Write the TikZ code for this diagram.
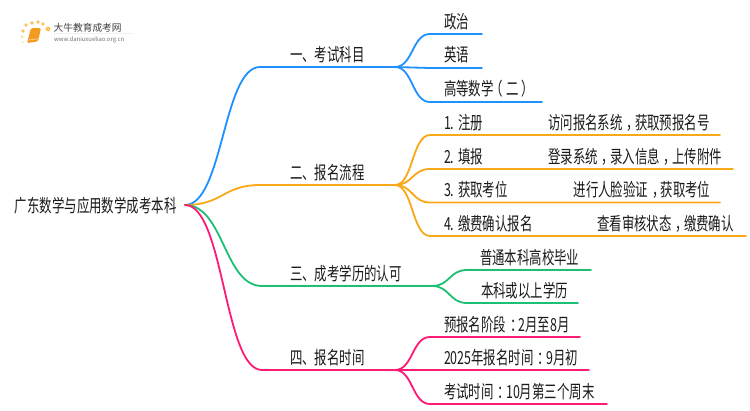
\documentclass[tikz,border=0pt]{standalone}
\usepackage{fontspec}
\setmainfont{Noto Sans CJK SC}
\newcommand{\fwc}{\makebox[1em][l]{\hspace{.32em}，}}
\newcommand{\fwk}{\makebox[1em][l]{\hspace{.32em}：}}
\newcommand{\fwl}{\makebox[1em][l]{\hspace{-.25em}（}}
\newcommand{\fwr}{\makebox[1em][l]{\hspace{.25em}）}}
\definecolor{cblue}{HTML}{1E90FF}
\definecolor{corange}{HTML}{F9A818}
\definecolor{cgreen}{HTML}{1DBF73}
\definecolor{cpink}{HTML}{FF1A75}
\definecolor{ctext}{HTML}{1A1A1A}
\definecolor{cdot}{HTML}{FBC45A}
\definecolor{cbook}{HTML}{F39C1F}
\tikzset{
  lbl/.style={anchor=base west,inner sep=0pt,outer sep=0pt,text=ctext,font=\fontsize{18}{20}\selectfont,xscale=0.69,transform shape},
  wire/.style={line width=1.8pt,line cap=round,line join=round},
}
\begin{document}
\begin{tikzpicture}[x=1pt,y=-1pt]
\useasboundingbox (0,0) rectangle (750,410);
\fill[white] (0,0) rectangle (750,410);
% logo
\fill[black!6] (54,33.2) rectangle (133,33.8);
\foreach \a/\b in {23/31,26/25,32/23,38/22,43/24}{\fill[cdot] (\a,\b) circle (1.8);}
\fill[cdot] (48,29) circle (2.4);
\fill[cdot,opacity=.6] (22,37) circle (1.3);
\fill[cdot,opacity=.4] (23,42) circle (1.1);
\fill[cbook,rounded corners=1.5pt] (31,28) -- (41,28) -- (38,41.5) -- (27,43) -- cycle;
\draw[orange!35,line width=.7pt] (28.5,40) -- (38,38.8);
\node[anchor=base west,inner sep=0pt,text=black!75,font=\fontsize{9.7}{11}\selectfont] (logotext) at (53.5,31) {大牛教育成考网};
\node[anchor=base west,inner sep=0pt,text=black!55,font=\fontsize{5.9}{7}\selectfont] (logourl) at (54,41) {www.daniuxueliao.org.cn};
% texts
\node[lbl] (root) at (15,212) {广东数学与应用数学成考本科};
\node[lbl] (b1) at (290,61) {一、考试科目};
\node[lbl] (b2) at (290,179) {二、报名流程};
\node[lbl] (b3) at (290,280) {三、成考学历的认可};
\node[lbl] (b4) at (290,364) {四、报名时间};
\node[lbl] (a1) at (444,28) {政治};
\node[lbl] (a2) at (444,61) {英语};
\node[lbl] (a3) at (444,95) {高等数学\fwl 二\fwr};
\node[lbl] (c1) at (444,129) {\makebox[151pt][l]{1. 注册}访问报名系统\fwc 获取预报名号};
\node[lbl] (c2) at (444,163) {\makebox[151pt][l]{2. 填报}登录系统\fwc 录入信息\fwc 上传附件};
\node[lbl] (c3) at (444,196) {\makebox[188pt][l]{3. 获取考位}进行人脸验证\fwc 获取考位};
\node[lbl] (c4) at (444,230) {\makebox[222pt][l]{4. 缴费确认报名}查看审核状态\fwc 缴费确认};
\node[lbl] (d1) at (480,264) {普通本科高校毕业};
\node[lbl] (d2) at (481,297) {本科或以上学历};
\node[lbl] (e1) at (444,331) {预报名阶段\fwk 2月至8月};
\node[lbl] (e2) at (444,364) {2025年报名时间\fwk 9月初};
\node[lbl] (e3) at (444,398) {考试时间\fwk 10月第三个周末};
% coordinates
\coordinate (r) at (185,205);
\coordinate (k1a) at (260,67);  \coordinate (k1) at (395,67);
\coordinate (k2a) at (260,185); \coordinate (k2) at (395,185);
\coordinate (k3a) at (262,286); \coordinate (k3) at (432,286);
\coordinate (k4a) at (262,370); \coordinate (k4) at (395,370);
% blue
\draw[wire,cblue] (r) .. controls (223,205) and (223,67) .. (k1a) -- (k1);
\coordinate (a1s) at (430,34);  \coordinate (a1e) at (482,34);
\coordinate (a2s) at (430,68);  \coordinate (a2e) at (482,68);
\coordinate (a3s) at (430,102); \coordinate (a3e) at (542,102);
\draw[wire,cblue] (k1) .. controls (413,67) and (412,34) .. (a1s) -- (a1e);
\draw[wire,cblue] (k1) .. controls (413,67) and (412,68) .. (a2s) -- (a2e);
\draw[wire,cblue] (k1) .. controls (413,67) and (412,102) .. (a3s) -- (a3e);
% orange
\draw[wire,corange] (r) .. controls (223,205) and (223,185) .. (k2a) -- (k2);
\coordinate (c1s) at (430,135); \coordinate (c1e) at (720,135);
\coordinate (c2s) at (430,169); \coordinate (c2e) at (733,169);
\coordinate (c3s) at (430,202.5); \coordinate (c3e) at (720,202.5);
\coordinate (c4s) at (430,236); \coordinate (c4e) at (746,236);
\draw[wire,corange] (k2) .. controls (413,185) and (412,135) .. (c1s) -- (c1e);
\draw[wire,corange] (k2) .. controls (413,185) and (412,169) .. (c2s) -- (c2e);
\draw[wire,corange] (k2) .. controls (413,185) and (412,202.5) .. (c3s) -- (c3e);
\draw[wire,corange] (k2) .. controls (413,185) and (412,236) .. (c4s) -- (c4e);
% green
\draw[wire,cgreen] (r) .. controls (224,205) and (224,286) .. (k3a) -- (k3);
\coordinate (d1s) at (467,270); \coordinate (d1e) at (591,270);
\coordinate (d2s) at (467,303); \coordinate (d2e) at (578,303);
\draw[wire,cgreen] (k3) .. controls (450,286) and (449,270) .. (d1s) -- (d1e);
\draw[wire,cgreen] (k3) .. controls (450,286) and (449,303) .. (d2s) -- (d2e);
% pink
\draw[wire,cpink] (r) .. controls (224,205) and (224,370) .. (k4a) -- (k4);
\coordinate (e1s) at (430,337); \coordinate (e1e) at (580,337);
\coordinate (e2s) at (430,370); \coordinate (e2e) at (589,370);
\coordinate (e3s) at (430,404); \coordinate (e3e) at (607,404);
\draw[wire,cpink] (k4) .. controls (413,370) and (412,337) .. (e1s) -- (e1e);
\draw[wire,cpink] (k4) .. controls (413,370) and (412,370) .. (e2s) -- (e2e);
\draw[wire,cpink] (k4) .. controls (413,370) and (412,404) .. (e3s) -- (e3e);
\end{tikzpicture}
\end{document}
